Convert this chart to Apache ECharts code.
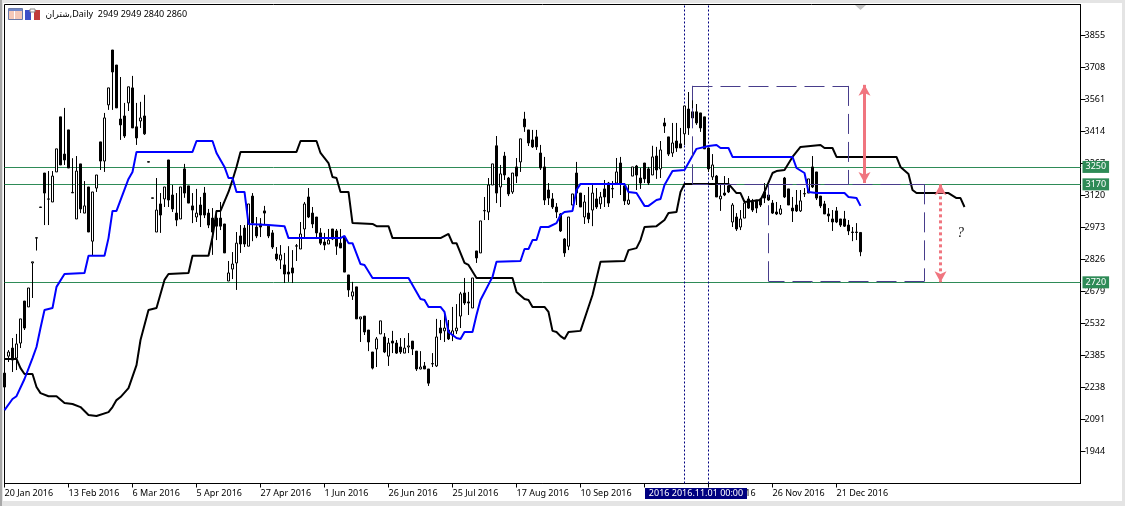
<!DOCTYPE html>
<html><head><meta charset="utf-8">
<style>
html,body{margin:0;padding:0;width:1125px;height:506px;overflow:hidden;background:#e4e4e4}
#paper{position:absolute;left:3px;top:3px;width:1119px;height:498px;background:#fff}
#edge{position:absolute;left:0;top:0;width:2px;height:506px;background:#a8a8a8}
#main{position:absolute;left:0;top:0;width:1125px;height:506px}
</style>
<script src="https://cdn.jsdelivr.net/npm/echarts@6/dist/echarts.min.js"></script>
</head><body><div id="paper"></div><div id="edge"></div><div id="main"></div>
<script>
const timeLabels = ['20 Jan 2016','13 Feb 2016','6 Mar 2016','5 Apr 2016','27 Apr 2016','1 Jun 2016','26 Jun 2016','25 Jul 2016','17 Aug 2016','10 Sep 2016','5 Oct 2016','2 Nov 2016','26 Nov 2016','21 Dec 2016'];
const priceTicks = [3855,3708,3561,3414,3267,3120,2973,2826,2679,2532,2385,2238,2091,1944];
const levels = [3250,3170,2720];
const header = 'شتران,Daily  2949 2949 2840 2860';
const cursorTime = '2016 2016.11.01 00:00';
// [open, close, low, high]
const candles = [
[2303,2239,2239,2303],[2381,2400,2354,2409],[2418,2363,2308,2464],[2372,2437,2317,2483],[2441,2552,2418,2552],[2634,2510,2501,2634],[2607,2694,2607,2694],[2809,2814,2648,2814],[2923,2925,2866,2925],[3066,3064,3064,3066],
[3222,3130,2983,3222],[3103,3102,2983,3231],[3089,3208,3089,3231],[3227,3333,3227,3333],[3480,3259,3259,3480],[3309,3282,3259,3521],[3420,3245,3245,3420],[3133,3131,3130,3290],[3011,3231,3011,3300],[3264,3057,3038,3264],
[3038,3071,3038,3185],[3158,2951,2951,3158],[2909,3135,2842,3135],[3153,3213,3135,3213],[3365,3277,3236,3365],[3277,3475,3227,3498],[3535,3613,3512,3613],[3787,3686,3512,3787],[3718,3521,3521,3718],[3470,3443,3374,3663],
[3484,3392,3383,3544],[3544,3618,3507,3618],[3613,3429,3429,3668],[3434,3383,3351,3544],[3461,3475,3429,3549],[3484,3402,3397,3581],[3274,3272,3272,3274],[3108,3106,3106,3108],[2951,3052,2951,3199],[3080,3029,2947,3130],
[3103,3158,3066,3158],[3282,3098,3066,3282],[3121,3057,3043,3167],[3038,3006,2978,3130],[3011,3158,3011,3158],[3241,3130,3108,3264],[3163,3084,3084,3163],[3071,3052,2992,3130],[3020,3038,2997,3149],[3075,3029,2974,3112],
[3130,3029,3015,3158],[3038,2983,2969,3057],[3015,2951,2846,3061],[3015,2978,2914,3052],[3015,2978,2960,3089],[2988,2855,2855,2988],[2726,2763,2726,2818],[2781,2804,2735,2859],[2809,2900,2685,2951],[2933,2896,2855,2983],
[2969,2896,2882,2983],[2886,3080,2886,3080],[3116,2992,2909,3130],[2974,2933,2923,3020],[2988,2974,2928,3015],[3048,3038,2983,3071],[2978,2933,2923,2978],[2947,2882,2873,2960],[2850,2827,2818,2882],[2823,2846,2781,2891],
[2800,2758,2717,2855],[2767,2758,2722,2886],[2786,2763,2717,2868],[2886,2888,2818,2896],[2873,2942,2873,2997],[2965,3080,2923,3089],[3112,3020,3015,3153],[3038,2988,2969,3066],[3020,2947,2923,3020],[2947,2900,2891,2969],
[2905,2891,2868,2947],[2896,2914,2896,2965],[2965,2919,2914,2965],[2956,2886,2846,2965],[2900,2878,2878,2965],[2928,2767,2767,2928],[2754,2685,2653,2754],[2657,2676,2639,2722],[2699,2552,2552,2699],[2552,2561,2446,2561],
[2565,2492,2478,2565],[2501,2446,2404,2501],[2400,2326,2320,2400],[2414,2460,2331,2469],[2483,2543,2483,2543],[2469,2400,2395,2487],[2381,2441,2336,2464],[2450,2441,2395,2497],[2441,2395,2391,2455],[2423,2400,2391,2464],
[2395,2418,2395,2464],[2423,2428,2395,2487],[2450,2414,2386,2450],[2404,2322,2313,2404],[2322,2331,2320,2404],[2336,2322,2322,2354],[2322,2257,2244,2322],[2345,2347,2331,2395],[2336,2469,2331,2552],[2510,2487,2455,2547],
[2497,2510,2446,2579],[2501,2460,2455,2547],[2478,2497,2450,2607],[2497,2510,2483,2620],[2565,2667,2510,2676],[2671,2625,2616,2740],[2630,2625,2570,2676],[2602,2740,2602,2740],[2864,2832,2809,2864],[2855,3002,2855,3002],
[3048,3050,3006,3112],[3043,3167,3006,3199],[3167,3264,3167,3264],[3347,3130,3084,3392],[3158,3218,3066,3259],[3300,3213,3190,3319],[3199,3126,3116,3204],[3135,3222,3126,3222],[3250,3208,3176,3291],[3273,3379,3227,3379],
[3470,3434,3411,3503],[3420,3360,3346,3420],[3374,3342,3337,3420],[3388,3342,3328,3420],[3314,3245,3236,3351],[3250,3098,3075,3296],[3144,3107,3075,3176],[3103,3066,3057,3130],[3066,3043,3015,3084],[3034,2956,2951,3038],
[2919,2855,2837,2923],[2886,3020,2868,3020],[3075,3126,3075,3126],[3222,3130,3075,3273],[3130,3066,3066,3130],[3020,3089,2988,3121],[3038,3011,2992,3158],[3052,3130,2978,3172],[3103,3066,3057,3153],[3080,3112,3057,3135],
[3149,3112,3066,3190],[3176,3084,3066,3181],[3149,3151,3107,3185],[3176,3227,3176,3291],[3268,3172,3121,3296],[3163,3094,3075,3176],[3080,3098,3075,3167],[3208,3250,3208,3250],[3254,3213,3144,3259],[3199,3176,3149,3245],
[3268,3195,3176,3268],[3241,3176,3167,3250],[3213,3296,3213,3347],[3300,3236,3195,3342],[3241,3328,3199,3369],[3452,3438,3406,3475],[3388,3309,3300,3388],[3314,3360,3296,3452],[3369,3337,3319,3452],[3356,3337,3337,3429],
[3402,3530,3351,3530],[3516,3429,3397,3594],[3503,3475,3443,3622],[3503,3452,3443,3539],[3498,3429,3411,3498],[3480,3333,3333,3480],[3337,3241,3227,3337],[3204,3259,3190,3309],[3208,3112,3112,3213],[3103,3116,3048,3176],
[3130,3121,3116,3208],[3163,3135,3130,3199],[2997,3075,2974,3084],[3020,2965,2956,3038],[2974,3011,2960,3052],[3015,3084,3015,3089],[3103,3061,3057,3116],[3089,3052,3043,3103],[3098,3061,3038,3098],[3103,3075,3066,3107],
[3135,3107,3084,3176],[3121,3098,3094,3158],[3084,3038,3034,3098],[3043,3034,3029,3089],[3034,3057,3029,3075],[3199,3112,3107,3204],[3149,3075,3075,3149],[3061,3048,2997,3112],[3075,3048,3043,3144],[3048,3094,3043,3144],
[3126,3128,3112,3153],[3130,3195,3130,3195],[3250,3158,3153,3300],[3227,3107,3098,3227],[3116,3071,3061,3116],[3080,3034,3034,3094],[3034,3025,2997,3061],[3011,2997,2956,3052],[3048,2997,2992,3066],[3011,2983,2974,3011],
[3011,2978,2974,3048],[2983,2956,2937,3006],[2951,2949,2909,2974],[2951,2949,2914,2992],[2949,2860,2840,2949]
];
// [bar index, price] at the corners of each line
const kijun = [[0,2133],[2,2184],[3,2197],[5,2276],[7,2372],[8,2423],[9,2510],[10,2593],[12,2602],[13,2699],[15,2758],[20,2763],[21,2842],[25,2842],[26,2923],[27,3048],[28,3048],[31,3195],[32,3227],[33,3319],[47,3319],[48,3369],[52,3369],[53,3314],[55,3250],[56,3199],[57,3199],[58,3135],[60,3135],[61,2988],[66,2983],[70,2978],[71,2923],[84,2923],[85,2933],[86,2900],[87,2900],[89,2804],[90,2800],[92,2740],[101,2740],[103,2676],[104,2643],[105,2639],[106,2607],[109,2607],[110,2584],[111,2492],[113,2464],[114,2460],[115,2492],[117,2492],[118,2570],[119,2639],[122,2745],[123,2814],[129,2818],[130,2873],[131,2873],[132,2914],[133,2914],[134,2974],[136,2974],[138,2992],[139,3029],[140,3043],[142,3048],[143,3144],[144,3172],[155,3172],[156,3135],[158,3130],[160,3071],[161,3071],[163,3098],[164,3103],[165,3167],[167,3231],[170,3236],[173,3333],[176,3346],[178,3351],[179,3337],[181,3337],[182,3296],[197,3296],[198,3245],[200,3222],[201,3135],[203,3130],[210,3130],[211,3112],[213,3107],[214,3071]];
const spanB = [[0,2368],[3,2368],[4,2326],[5,2299],[7,2299],[8,2239],[9,2211],[11,2197],[13,2197],[15,2166],[17,2161],[19,2147],[21,2111],[23,2106],[26,2124],[27,2147],[28,2179],[29,2193],[31,2234],[33,2340],[34,2455],[36,2593],[38,2602],[40,2731],[41,2758],[46,2763],[47,2842],[51,2842],[52,2928],[53,3048],[54,3048],[56,3135],[57,3190],[58,3250],[59,3319],[73,3319],[74,3369],[78,3369],[79,3314],[81,3268],[82,3204],[83,3199],[84,3135],[86,3135],[87,2992],[92,2988],[93,2978],[96,2978],[97,2923],[109,2923],[111,2942],[112,2900],[113,2900],[115,2809],[116,2800],[118,2740],[127,2740],[128,2676],[130,2643],[131,2639],[132,2607],[135,2607],[136,2584],[137,2497],[138,2492],[139,2473],[140,2460],[141,2492],[144,2497],[147,2662],[149,2814],[155,2818],[156,2868],[158,2877],[159,2914],[160,2974],[163,2978],[165,3006],[166,3038],[168,3043],[169,3135],[170,3172],[181,3172],[183,3130],[184,3130],[185,3089],[189,3098],[190,3135],[192,3222],[193,3231],[195,3236],[197,3296],[199,3342],[204,3351],[205,3337],[207,3337],[208,3296],[223,3296],[224,3250],[226,3218],[227,3144],[228,3130],[236,3130],[238,3107],[239,3107],[240,3066]];
const cursorBars = [170,176];
const boxUpper = {from:172,to:211,top:3622,bottom:3170};
const boxLower = {from:191,to:230,top:3170,bottom:2725};
const arrowSolid = {bar:215,top:3627,bottom:3176};
const arrowDotted = {bar:234,top:3170,bottom:2720};
const questionMark = [239,2945];

const barCount = 270, tickStep = 16;
const categories = Array.from({length:barCount},(_,i)=> i%tickStep===0 ? (timeLabels[i/tickStep]||'') : '');
const isTick = i => i%tickStep===0 && i/tickStep<timeLabels.length;
const font = '"Noto Sans","DejaVu Sans",sans-serif';
const seg = (a,b,c,d)=>[{coord:[a,b]},{coord:[c,d]}];
const boxSegs = b=>[seg(b.from,b.top,b.to,b.top),seg(b.to,b.top,b.to,b.bottom),seg(b.to,b.bottom,b.from,b.bottom),seg(b.from,b.bottom,b.from,b.top)];

const chart = echarts.init(document.getElementById('main'),null,{renderer:'canvas'});
chart.setOption({
  animation:false,
  backgroundColor:'transparent',
  grid:{left:4.5,right:44.5,top:4.5,bottom:22.5,show:true,borderColor:'#000',borderWidth:1,backgroundColor:'transparent'},
  xAxis:{type:'category',data:categories,boundaryGap:false,
    axisLine:{show:true,onZero:false,lineStyle:{color:'#000'}},
    axisTick:{show:true,length:4,interval:i=>isTick(i),lineStyle:{color:'#000'}},
    axisLabel:{show:true,interval:i=>isTick(i),align:'left',margin:5,fontFamily:font,fontSize:9,color:'#000'},
    splitLine:{show:false}},
  yAxis:{type:'value',position:'right',min:1796,max:3996,scale:true,
    axisLine:{show:true,lineStyle:{color:'#000'}},
    axisTick:{show:true,length:5,customValues:priceTicks,lineStyle:{color:'#000'}},
    axisLabel:{show:true,customValues:priceTicks,margin:4,formatter:v=>String(v),fontFamily:font,fontSize:9,color:'#000',hideOverlap:false},
    splitLine:{show:false}},
  series:[
    {type:'line',name:'levels',data:[],z:1,silent:true,clip:false,
      markLine:{silent:true,symbol:'none',animation:false,z:1,
        lineStyle:{color:'#2e8b57',width:1,type:'solid'},
        label:{show:true,position:'end',distance:2,formatter:p=>String(p.value),color:'#fff',backgroundColor:'#2e8b57',padding:[2,3,1,3],fontFamily:font,fontSize:9},
        data:levels.map(v=>({yAxis:v}))}},
    {type:'line',name:'cursor',data:[],z:1,silent:true,
      markLine:{silent:true,symbol:'none',animation:false,z:1,label:{show:false},
        lineStyle:{color:'#000080',width:1,type:[2,2]},
        data:cursorBars.map(i=>({xAxis:i}))}},
    {type:'candlestick',name:'price',data:candles,barWidth:3,z:3,silent:true,
      itemStyle:{color:'#fff',color0:'#000',borderColor:'#000',borderColor0:'#000',borderWidth:1}},
    {type:'line',name:'Span B',data:spanB,showSymbol:false,symbol:'none',z:4,silent:true,lineStyle:{color:'#000',width:2}},
    {type:'line',name:'Kijun',data:kijun,showSymbol:false,symbol:'none',z:5,silent:true,lineStyle:{color:'#0000ff',width:2}},
    {type:'line',name:'boxes',data:[],z:6,silent:true,
      markLine:{silent:true,symbol:'none',animation:false,z:6,label:{show:false},
        lineStyle:{color:'#483d8b',width:1,type:[20,8]},
        data:[...boxSegs(boxUpper),...boxSegs(boxLower)]}},
    {type:'line',name:'arrow1',data:[],z:7,silent:true,
      markLine:{silent:true,symbol:['arrow','arrow'],symbolSize:[9,11],animation:false,z:7,label:{show:false},
        lineStyle:{color:'#f0757f',width:3,type:'solid'},
        data:[seg(arrowSolid.bar,arrowSolid.top,arrowSolid.bar,arrowSolid.bottom)]}},
    {type:'line',name:'arrow2',data:[],z:7,silent:true,
      markLine:{silent:true,symbol:['arrow','arrow'],symbolSize:[9,11],animation:false,z:7,label:{show:false},
        lineStyle:{color:'#f0757f',width:3,type:[3,3]},
        data:[seg(arrowDotted.bar,arrowDotted.top,arrowDotted.bar,arrowDotted.bottom)]}},
    {type:'scatter',name:'note',data:[questionMark],symbolSize:1,itemStyle:{color:'#fff',opacity:1},z:8,silent:true,
      label:{show:true,position:'inside',formatter:'?',color:'#000',opacity:1,fontFamily:'"Liberation Serif",serif',fontStyle:'italic',fontSize:14}}
  ],
  graphic:[
    {type:'polygon',z:100,shape:{points:[[855,5],[866,5],[860.5,10]]},style:{fill:'#c4c4c4'}},
    {type:'rect',z:100,shape:{x:645,y:488,width:102,height:11},style:{fill:'#000080'}},
    {type:'text',z:101,style:{x:696,y:493.5,text:cursorTime,fill:'#fff',align:'center',verticalAlign:'middle',font:'9px "Noto Sans","DejaVu Sans",sans-serif'}},
    {type:'text',z:101,style:{x:45.5,y:14.5,text:header,fill:'#000',align:'left',verticalAlign:'middle',font:'9px "Noto Sans","DejaVu Sans",sans-serif'}},
    {type:'rect',z:100,shape:{x:8.5,y:8.5,width:14,height:11},style:{fill:'#f4c8b8',stroke:'#6b7aa8',lineWidth:1}},
    {type:'rect',z:100,shape:{x:9,y:9,width:13,height:2},style:{fill:'#6f86c8'}},
    {type:'rect',z:100,shape:{x:14,y:11,width:1,height:8},style:{fill:'#fff'}},
    {type:'rect',z:100,shape:{x:25,y:10,width:6,height:10},style:{fill:'#3c50c8'}},
    {type:'rect',z:100,shape:{x:34,y:10,width:6,height:10},style:{fill:'#c03c3c'}},
    {type:'rect',z:100,shape:{x:30,y:9,width:5,height:3},style:{fill:'#fff',stroke:'#888',lineWidth:1}}
  ]
});
</script></body></html>
